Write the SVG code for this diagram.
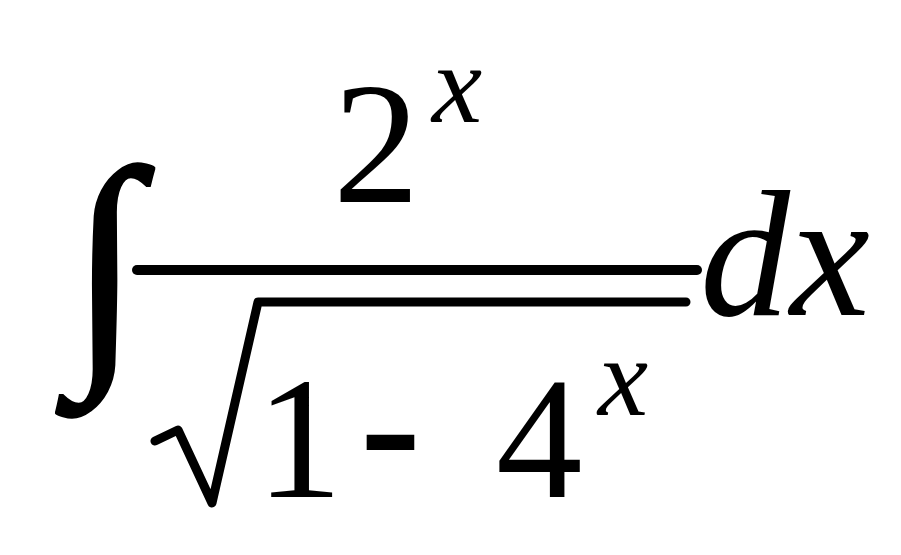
<svg xmlns="http://www.w3.org/2000/svg" width="901" height="555" viewBox="0 0 901 555">
<style>
.s{font-family:"Liberation Serif","Times New Roman",serif;fill:#000}
.i{font-style:italic}
.ln{stroke:#000;fill:none;stroke-linecap:round;stroke-linejoin:round}
</style>
<rect width="901" height="555" fill="#fff"/>
<g id="integral"><text class="s" x="70" y="348" font-size="258" stroke="#000" stroke-width="3">∫</text></g>
<g id="numerator">
<text class="s" x="333" y="202" font-size="173">2</text>
<text class="s i" x="432" y="122" font-size="113">x</text>
</g>
<g id="lines">
<line class="ln" x1="137" y1="270" x2="697" y2="270" stroke-width="10"/>
<path class="ln" d="M155,441 L178,430 L212,503 L258,302 L686,302" stroke-width="9"/>
</g>
<g id="denominator">
<text class="s" x="256" y="497" font-size="173">1</text>
<text x="358" y="494" font-size="195" style="font-family:'Liberation Sans',Arial,sans-serif">-</text>
<text class="s" x="496" y="497" font-size="173">4</text>
<text class="s i" x="598" y="415" font-size="113">x</text>
</g>
<g id="dx"><text class="s i" x="700" y="315" font-size="180">dx</text></g>
</svg>
